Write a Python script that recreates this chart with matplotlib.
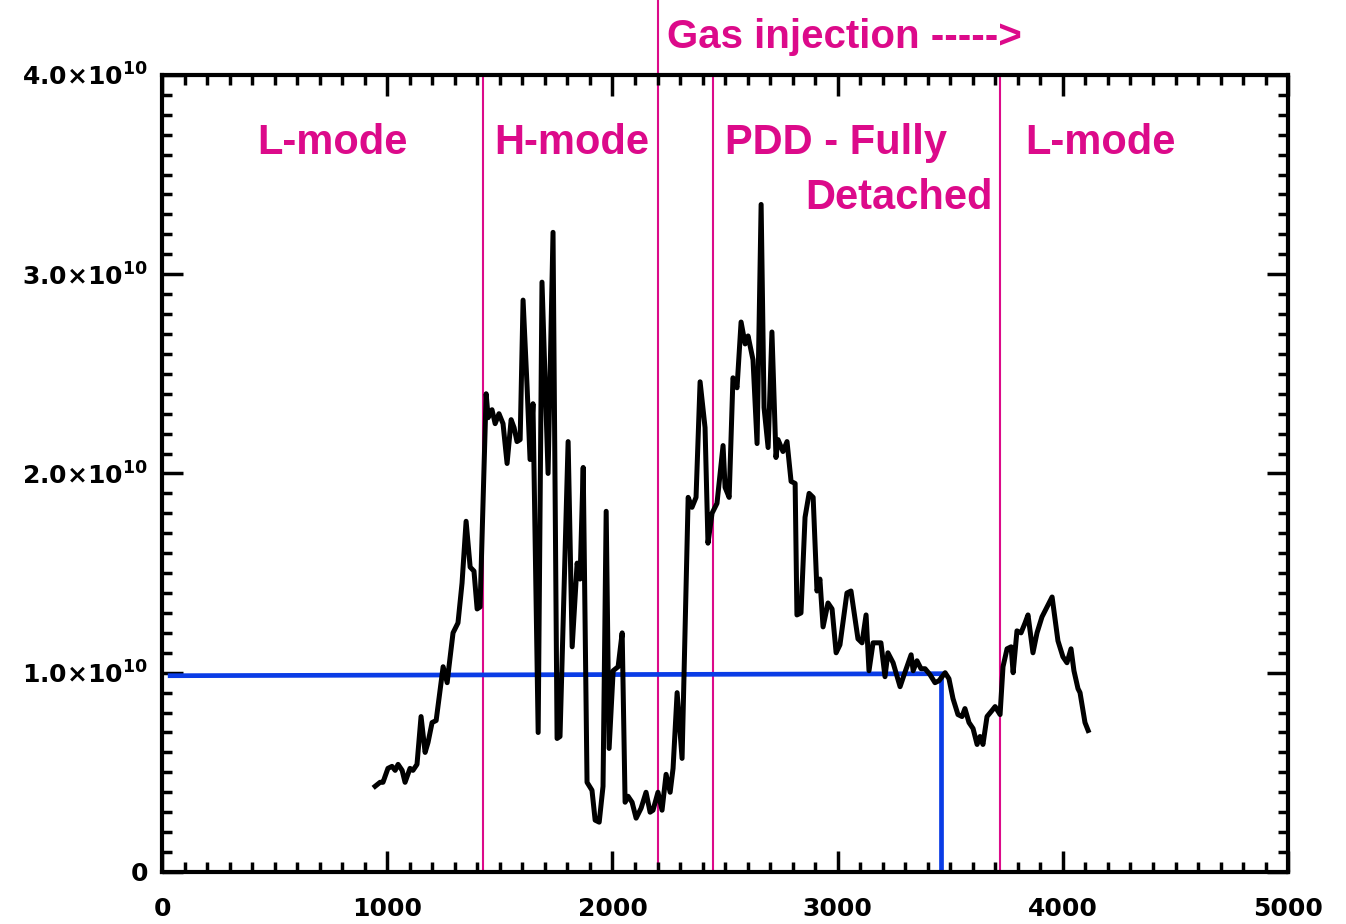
import numpy as np
import matplotlib
matplotlib.use("Agg")
import matplotlib.pyplot as plt
from matplotlib.ticker import MultipleLocator, FixedLocator, FixedFormatter

# time [ms] and line density [1e10 units]
t_ms = [946, 968, 981, 1003, 1021, 1035, 1048, 1066, 1079, 1101, 1114, 1132,
        1150, 1168, 1181, 1199, 1217, 1234, 1248, 1266, 1274, 1292, 1314, 1332,
        1350, 1368, 1385, 1399, 1412, 1439, 1448, 1465, 1479, 1496, 1514, 1532,
        1550, 1563, 1576, 1590, 1603, 1621, 1634, 1647, 1670, 1687, 1714, 1736,
        1754, 1767, 1803, 1821, 1843, 1856, 1870, 1887, 1909, 1923, 1941, 1958,
        1972, 1985, 2003, 2025, 2043, 2056, 2069, 2087, 2105, 2127, 2149, 2167,
        2180, 2202, 2220, 2238, 2256, 2269, 2287, 2309, 2336, 2353, 2371, 2389,
        2411, 2424, 2442, 2464, 2491, 2500, 2518, 2535, 2553, 2571, 2589, 2602,
        2624, 2642, 2660, 2673, 2691, 2708, 2726, 2735, 2757, 2775, 2793, 2811,
        2819, 2837, 2855, 2873, 2891, 2908, 2921, 2935, 2957, 2975, 2993, 3010,
        3041, 3059, 3090, 3108, 3126, 3139, 3157, 3192, 3210, 3223, 3246, 3277,
        3295, 3326, 3335, 3352, 3370, 3388, 3410, 3432, 3450, 3477, 3494, 3512,
        3534, 3552, 3565, 3583, 3601, 3619, 3632, 3645, 3663, 3685, 3699, 3721,
        3734, 3752, 3770, 3779, 3796, 3814, 3832, 3845, 3867, 3885, 3907, 3925,
        3952, 3978, 4000, 4018, 4036, 4049, 4067, 4076, 4098, 4112]
dens = [0.43, 0.45, 0.45, 0.52, 0.53, 0.51, 0.54, 0.51, 0.45, 0.52, 0.51, 0.54,
        0.78, 0.60, 0.65, 0.75, 0.76, 0.91, 1.03, 0.95, 1.03, 1.20, 1.25, 1.45,
        1.76, 1.53, 1.51, 1.32, 1.33, 2.40, 2.28, 2.32, 2.25, 2.30, 2.25, 2.05,
        2.27, 2.23, 2.16, 2.17, 2.87, 2.43, 2.07, 2.35, 0.70, 2.96, 2.00, 3.21,
        0.67, 0.68, 2.16, 1.13, 1.55, 1.47, 2.03, 0.45, 0.41, 0.26, 0.25, 0.43,
        1.81, 0.62, 1.01, 1.03, 1.20, 0.35, 0.38, 0.35, 0.27, 0.32, 0.40, 0.30,
        0.31, 0.40, 0.31, 0.49, 0.40, 0.52, 0.90, 0.57, 1.88, 1.83, 1.88, 2.46,
        2.23, 1.65, 1.80, 1.85, 2.14, 1.93, 1.88, 2.48, 2.43, 2.76, 2.65, 2.69,
        2.57, 2.15, 3.35, 2.33, 2.13, 2.71, 2.08, 2.17, 2.11, 2.16, 1.96, 1.95,
        1.29, 1.30, 1.78, 1.90, 1.88, 1.41, 1.47, 1.23, 1.35, 1.32, 1.10, 1.14,
        1.40, 1.41, 1.17, 1.15, 1.29, 1.01, 1.15, 1.15, 0.98, 1.10, 1.05, 0.93,
        0.99, 1.09, 1.01, 1.06, 1.02, 1.02, 0.99, 0.95, 0.96, 1.00, 0.97, 0.87,
        0.79, 0.78, 0.82, 0.75, 0.72, 0.64, 0.68, 0.64, 0.78, 0.81, 0.83, 0.79,
        1.03, 1.12, 1.13, 1.00, 1.21, 1.20, 1.25, 1.29, 1.10, 1.20, 1.28, 1.32,
        1.38, 1.16, 1.08, 1.05, 1.12, 1.01, 0.92, 0.90, 0.75, 0.71]

# threshold marker
thr_t = [36, 3459]
thr_level = [0.985, 0.995]
thr_t_end = 3459

# phase boundaries
bounds = [1425, 2200, 2445, 3720]
gas_start = 2200

phase_labels = ["L-mode", "H-mode", "PDD - Fully", "Detached", "L-mode"]
phase_x = [755, 1821, 2500, 3690, 4165]
phase_y = [3.66, 3.66, 3.66, 3.38, 3.66]
phase_ha = ["center", "center", "left", "right", "center"]

yticks = [0, 1, 2, 3, 4]
ytick_labels = ["0"] + [r"$\mathbf{%d.0{\times}10^{10}}$" % v for v in yticks[1:]]
xticks = [0, 1000, 2000, 3000, 4000, 5000]

magenta = "#dc0a8a"
blue = "#0a3ce6"
scale = 1e10

plt.rcParams["mathtext.fontset"] = "dejavusans"
label_font = ["Liberation Sans", "DejaVu Sans"]

fig = plt.figure(figsize=(13.46, 9.24), dpi=100)
ax = fig.add_axes([0.1204, 0.0563, 0.8366, 0.8626])

for b in bounds:
    ax.axvline(b, color=magenta, lw=1.5, zorder=1)
ax.plot([gas_start, gas_start], [4 * scale, 4.38 * scale], color=magenta,
        lw=1.5, clip_on=False, zorder=1)

ax.plot(thr_t, np.array(thr_level) * scale, color=blue, lw=3.4, zorder=2)
ax.plot([thr_t_end, thr_t_end], [thr_level[1] * scale, 0], color=blue,
        lw=3.4, zorder=2)

ax.plot(t_ms, np.array(dens) * scale, color="black", lw=3.6, zorder=3)

for lab, x, y, ha in zip(phase_labels, phase_x, phase_y, phase_ha):
    ax.text(x, y * scale, lab, color=magenta, fontsize=30, fontweight="bold",
            family=label_font, ha=ha, va="center")
ax.text(2242, 4.19 * scale, "Gas injection ----->", color=magenta, fontsize=29,
        fontweight="bold", family=label_font, ha="left", va="center")

ax.set_xlim(0, 5000)
ax.set_ylim(0, 4 * scale)

ax.xaxis.set_major_locator(FixedLocator(xticks))
ax.xaxis.set_minor_locator(MultipleLocator(100))
ax.yaxis.set_major_locator(FixedLocator([v * scale for v in yticks]))
ax.yaxis.set_major_formatter(FixedFormatter(ytick_labels))
ax.yaxis.set_minor_locator(MultipleLocator(0.1 * scale))
ax.tick_params(which="both", direction="in", top=True, right=True, width=2.5,
               labelsize=18)
ax.tick_params(which="major", length=15)
ax.tick_params(which="minor", length=7)
ax.tick_params(axis="x", pad=18)
ax.tick_params(axis="y", pad=10)
for lbl in ax.get_xticklabels() + ax.get_yticklabels():
    lbl.set_fontweight("bold")
for s in ax.spines.values():
    s.set_linewidth(3)

fig.savefig("out.png", dpi=100)
